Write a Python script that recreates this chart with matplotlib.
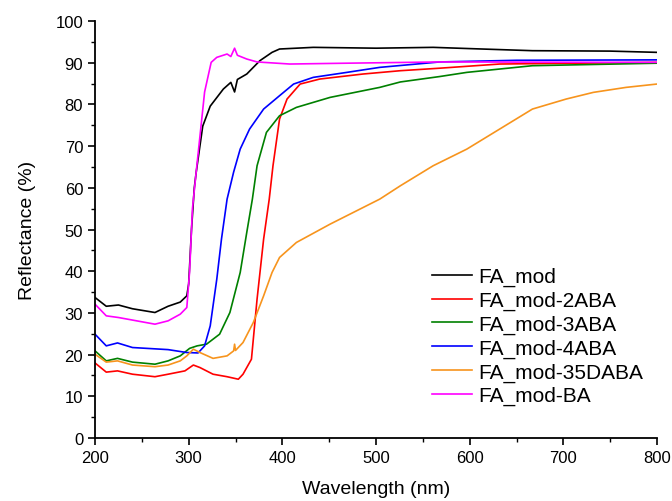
import matplotlib
matplotlib.use('Agg')
import matplotlib.pyplot as plt
from matplotlib.ticker import MultipleLocator

plt.rcParams['font.family'] = ['Liberation Sans', 'DejaVu Sans']

# FA_mod
x_mod = [200, 212, 225, 240, 264, 278, 291, 298, 300, 303, 306, 308, 315, 323, 337, 345, 349, 352,
         362, 376, 389, 397, 433, 500, 561, 600, 667, 750, 800]
y_mod = [33.7, 31.6, 31.9, 31.0, 30.1, 31.6, 32.6, 34.1, 37.0, 50.0, 60.0, 63.7, 74.8, 79.6, 83.7, 85.3, 83.0, 86.0,
         87.3, 90.5, 92.5, 93.3, 93.7, 93.5, 93.7, 93.4, 92.9, 92.8, 92.5]

# FA_mod-2ABA
x_2aba = [200, 212, 224, 240, 264, 278, 296, 305, 312, 326, 341, 353, 358, 367, 373, 380, 386, 390,
          397, 405, 419, 440, 486, 526, 568, 632, 800]
y_2aba = [18.0, 15.8, 16.1, 15.3, 14.7, 15.3, 16.1, 17.5, 16.9, 15.3, 14.7, 14.1, 15.3, 18.9, 33.3, 47.7, 57.3, 65.3,
          76.5, 81.3, 84.9, 86.1, 87.3, 88.1, 88.7, 89.7, 90.1]

# FA_mod-3ABA
x_3aba = [200, 212, 224, 240, 264, 278, 291, 301, 309, 319, 333, 344, 355, 362, 368, 373, 383, 397,
          415, 451, 504, 526, 568, 597, 667, 800]
y_3aba = [20.9, 18.5, 19.1, 18.2, 17.7, 18.5, 19.7, 21.5, 22.1, 22.5, 24.9, 30.1, 39.7, 49.3, 57.3, 65.3, 73.3, 77.3,
          79.3, 81.7, 84.1, 85.4, 86.7, 87.7, 89.3, 89.9]

# FA_mod-4ABA
x_4aba = [200, 212, 224, 240, 278, 298, 310, 317, 323, 330, 335, 341, 348, 355, 365, 380, 397, 412,
          433, 469, 504, 568, 650, 800]
y_4aba = [24.9, 22.1, 22.8, 21.7, 21.2, 20.5, 20.4, 22.1, 26.9, 38.1, 47.7, 57.3, 63.8, 69.3, 74.1, 78.9, 82.1, 84.9,
          86.5, 87.7, 88.9, 90.2, 90.6, 90.7]

# FA_mod-35DABA
x_35daba = [200, 212, 224, 240, 264, 278, 291, 298, 305, 312, 326, 341, 348, 349, 350, 358, 369, 380,
            389, 397, 415, 451, 504, 526, 561, 597, 632, 667, 703, 732, 767, 800]
y_35daba = [20.1, 18.2, 18.5, 17.5, 17.1, 17.5, 18.5, 19.7, 21.3, 20.5, 19.1, 19.7, 20.9, 22.5, 21.0, 22.9, 27.7, 34.1,
            39.7, 43.3, 46.9, 51.3, 57.3, 60.5, 65.3, 69.3, 74.1, 78.9, 81.3, 82.9, 84.1, 84.9]

# FA_mod-BA
x_ba = [200, 212, 225, 264, 278, 291, 298, 301, 304, 308, 317, 324, 330, 341, 345, 349, 352, 362,
        373, 408, 469, 568, 800]
y_ba = [32.1, 29.3, 28.9, 27.3, 28.1, 29.7, 31.3, 40.0, 55.0, 63.8, 83.0, 90.1, 91.3, 92.1, 91.5, 93.5, 91.8, 90.9,
        90.2, 89.7, 89.9, 90.2, 90.1]

series = [
    ('FA_mod', x_mod, y_mod, '#000000'),
    ('FA_mod-2ABA', x_2aba, y_2aba, '#ff0000'),
    ('FA_mod-3ABA', x_3aba, y_3aba, '#008000'),
    ('FA_mod-4ABA', x_4aba, y_4aba, '#0000ff'),
    ('FA_mod-35DABA', x_35daba, y_35daba, '#f7941d'),
    ('FA_mod-BA', x_ba, y_ba, '#ff00ff'),
]

fig = plt.figure(figsize=(6.72, 5.02), dpi=100)
ax = fig.add_axes([0.1414, 0.1255, 0.8363, 0.8305])

for name, xs, ys, col in series:
    ax.plot(xs, ys, color=col, lw=1.2, label=name)

ax.set_xlim(200, 800)
ax.set_ylim(0, 100)
ax.xaxis.set_major_locator(MultipleLocator(100))
ax.xaxis.set_minor_locator(MultipleLocator(50))
ax.yaxis.set_major_locator(MultipleLocator(10))
ax.yaxis.set_minor_locator(MultipleLocator(5))
ax.spines['top'].set_visible(False)
ax.spines['right'].set_visible(False)
ax.spines['left'].set_linewidth(1.3)
ax.spines['bottom'].set_linewidth(1.3)
ax.tick_params(which='major', direction='out', length=5, width=1.2, labelsize=12)
ax.tick_params(which='minor', direction='out', length=3, width=1.0)

ax.set_xlabel('Wavelength (nm)', fontsize=14, labelpad=11)
ax.set_ylabel('Reflectance (%)', fontsize=14, labelpad=14)

fig.legend(loc='upper left', bbox_to_anchor=(0.643, 0.466), frameon=False, fontsize=15,
           handlelength=1.9, handletextpad=0.3, labelspacing=0.22, borderpad=0, borderaxespad=0)

fig.savefig('out.png', dpi=100)
